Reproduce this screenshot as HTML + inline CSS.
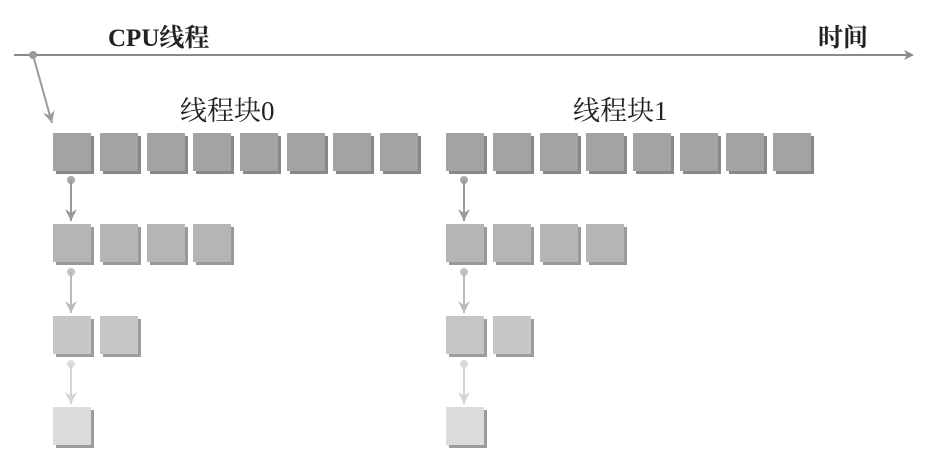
<!DOCTYPE html>
<html><head><meta charset="utf-8"><style>
html,body{margin:0;padding:0;background:#fff;width:937px;height:470px;overflow:hidden}
text{font-family:"Liberation Serif","Noto Serif CJK SC",serif;fill:#222}
</style></head><body>
<svg width="937" height="470" xmlns="http://www.w3.org/2000/svg">
<defs>
<marker id="a" markerWidth="10" markerHeight="10" refX="8" refY="5" orient="auto" markerUnits="userSpaceOnUse"><path d="M0,0 L10,5 L0,10 L3,5 z" fill="#8a8a8a"/></marker>
<marker id="b" markerWidth="14" markerHeight="14" refX="12" refY="7" orient="auto" markerUnits="userSpaceOnUse"><path d="M0,1 L12,7 L0,13 L4,7 z" fill="#9a9a9a"/></marker>
<marker id="c" markerWidth="14" markerHeight="14" refX="12" refY="7" orient="auto" markerUnits="userSpaceOnUse"><path d="M0,1 L12,7 L0,13 L4,7 z" fill="#bbb"/></marker>
<marker id="d" markerWidth="14" markerHeight="14" refX="12" refY="7" orient="auto" markerUnits="userSpaceOnUse"><path d="M0,1 L12,7 L0,13 L4,7 z" fill="#d4d4d4"/></marker>
</defs>
<line x1="14" y1="55" x2="912" y2="55" stroke="#8a8a8a" stroke-width="2" marker-end="url(#a)"/>
<circle cx="33" cy="55" r="4" fill="#999"/>
<line x1="33" y1="55" x2="52" y2="123" stroke="#9a9a9a" stroke-width="2" marker-end="url(#b)"/>
<text x="108" y="46" font-size="25" font-weight="bold">CPU线程</text>
<text x="818" y="46" font-size="25" font-weight="bold">时间</text>
<text x="180" y="120" font-size="27">线程块0</text>
<text x="573" y="120" font-size="27">线程块1</text>
<g id="blk">
<g fill="#888"><rect x="56" y="136" width="38" height="38"/><rect x="103" y="136" width="38" height="38"/><rect x="150" y="136" width="38" height="38"/><rect x="196" y="136" width="38" height="38"/><rect x="243" y="136" width="38" height="38"/><rect x="290" y="136" width="38" height="38"/><rect x="336" y="136" width="38" height="38"/><rect x="383" y="136" width="38" height="38"/></g>
<g fill="#a3a3a3"><rect x="53" y="133" width="38" height="38"/><rect x="100" y="133" width="38" height="38"/><rect x="147" y="133" width="38" height="38"/><rect x="193" y="133" width="38" height="38"/><rect x="240" y="133" width="38" height="38"/><rect x="287" y="133" width="38" height="38"/><rect x="333" y="133" width="38" height="38"/><rect x="380" y="133" width="38" height="38"/></g>
<g fill="#999"><rect x="56" y="227" width="38" height="38"/><rect x="103" y="227" width="38" height="38"/><rect x="150" y="227" width="38" height="38"/><rect x="196" y="227" width="38" height="38"/></g>
<g fill="#b5b5b5"><rect x="53" y="224" width="38" height="38"/><rect x="100" y="224" width="38" height="38"/><rect x="147" y="224" width="38" height="38"/><rect x="193" y="224" width="38" height="38"/></g>
<g fill="#9c9c9c"><rect x="56" y="319" width="38" height="38"/><rect x="103" y="319" width="38" height="38"/></g>
<g fill="#c6c6c6"><rect x="53" y="316" width="38" height="38"/><rect x="100" y="316" width="38" height="38"/></g>
<rect x="56" y="410" width="38" height="38" fill="#9c9c9c"/>
<rect x="53" y="407" width="38" height="38" fill="#dcdcdc"/>
<circle cx="71" cy="180" r="4" fill="#aaa"/><line x1="71" y1="180" x2="71" y2="221" stroke="#9a9a9a" stroke-width="2" marker-end="url(#b)"/>
<circle cx="71" cy="272" r="4" fill="#c4c4c4"/><line x1="71" y1="272" x2="71" y2="313" stroke="#bbb" stroke-width="2" marker-end="url(#c)"/>
<circle cx="71" cy="364" r="4" fill="#ddd"/><line x1="71" y1="364" x2="71" y2="404" stroke="#d4d4d4" stroke-width="2" marker-end="url(#d)"/>
</g>
<use href="#blk" x="393" y="0"/>
</svg>
</body></html>
